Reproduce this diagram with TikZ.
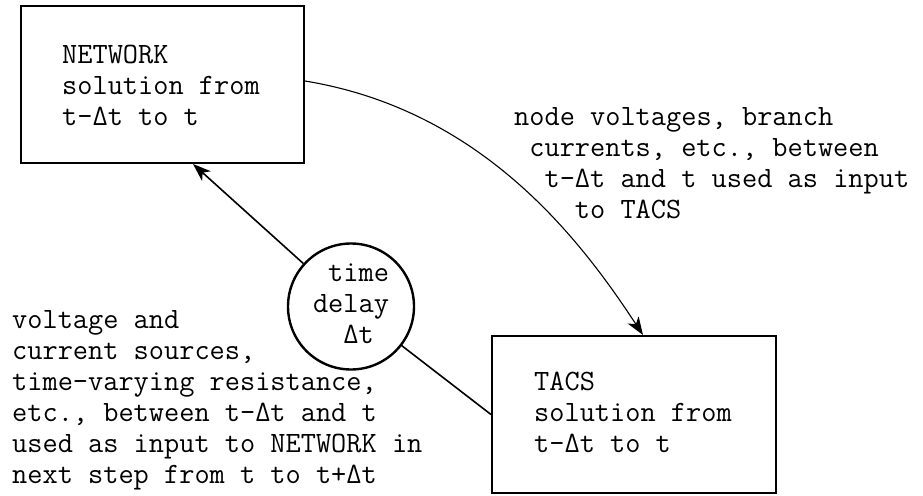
\documentclass[tikz,border=0pt]{standalone}
\usepackage{fontspec}
\usetikzlibrary{arrows.meta}
\begin{document}
\begin{tikzpicture}[x=1pt,y=-1pt,
  tw/.style={font=\ttfamily\fontsize{29.5}{31}\selectfont},
  txt/.style={tw, align=left, inner sep=0pt, anchor=north west},
  boxnode/.style={draw, line width=2pt, inner sep=0pt, minimum width=283pt, minimum height=157pt},
  conn/.style={line width=1.6pt},
  arr/.style={conn, -{Stealth[length=18pt,width=13pt,inset=5pt]}},
]
\useasboundingbox (0,0) rectangle (923,495);
\node[boxnode] (net) at (162.5,84.5) {};
\node[txt] (nettxt) at (62,41.3) {\strut NETWORK\\solution from\\t-Δt to t};
\node[boxnode, minimum width=284pt] (tacs) at (634,414.5) {};
\node[txt] (tacstxt) at (534,368.3) {\strut TACS\\solution from\\t-Δt to t};
\node[circle, draw, line width=2.4pt, minimum size=126pt, inner sep=0pt, tw, align=left] (delay) at (351,306.5) {\strut\phantom{x}time\\delay\\\phantom{xx}Δt\strut};
\node[txt] (lefttxt) at (12,306.3) {\strut voltage and\\current sources,\\time-varying resistance,\\etc., between t-Δt and t\\used as input to NETWORK in\\next step from t to t+Δt};
\node[txt] (righttxt) at (514,103.3) {\strut node voltages, branch\\\phantom{x}currents, etc., between\\\phantom{xx}t-Δt and t used as input\\\phantom{xxxx}to TACS};
\coordinate (nettip) at ([xshift=30.5pt]net.south);
\draw[arr] (delay) -- (nettip);
\draw[conn] (delay) -- (tacs.west);
\draw[arr, line width=1.1pt] ([yshift=3.5pt]net.east) .. controls +(177,29) and +(-63,-96) .. ([xshift=9pt]tacs.north);
\end{tikzpicture}
\end{document}
